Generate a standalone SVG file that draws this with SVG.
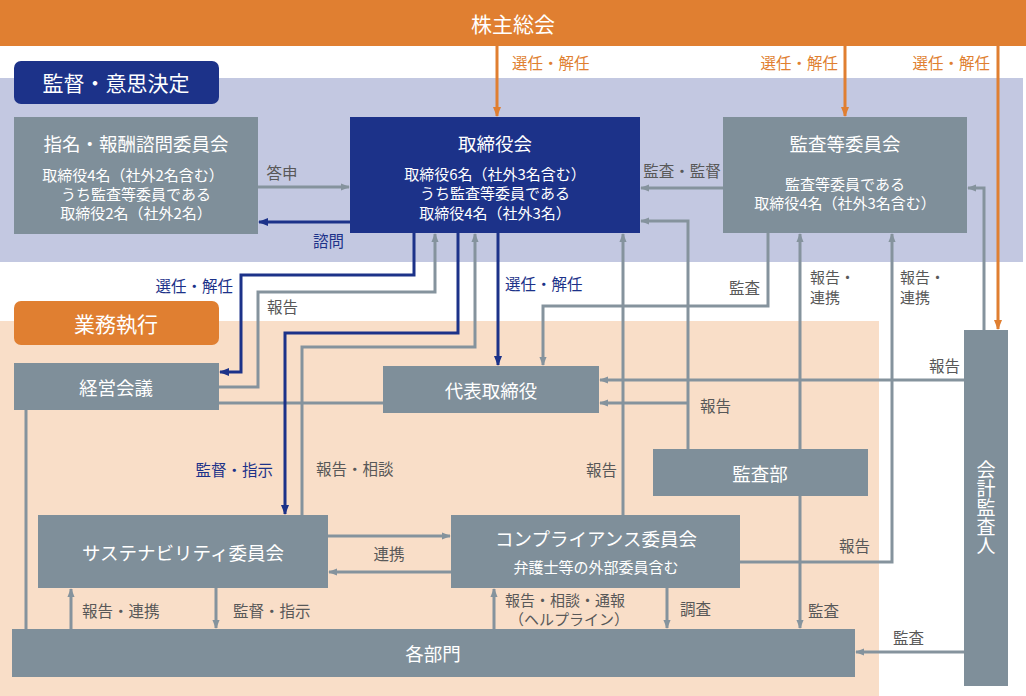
<svg xmlns="http://www.w3.org/2000/svg" width="1026" height="696" viewBox="0 0 1026 696">
<style>
text{font-family:"Noto Sans CJK JP","Noto Sans",sans-serif;dominant-baseline:central}
.t{fill:#fff;font-size:18.5px;text-anchor:middle}
.s{fill:#fff;font-size:15px;text-anchor:middle}
.h{fill:#fff;font-size:21px;text-anchor:middle}
.lb{font-size:15.5px;fill:#585858}
.m{font-size:15px}
.lo{font-size:15.5px;fill:#E07F31}
.ln{font-size:15.5px;fill:#1C3289}
.g{fill:#7F8F9A}
.cg{fill:none;stroke:#85939D;stroke-width:3}
.cn{fill:none;stroke:#1C3289;stroke-width:3}
.co{fill:none;stroke:#E07F31;stroke-width:3}
</style>
<defs>
<marker id="ag" viewBox="0 0 10 10" refX="9" refY="5" markerWidth="9" markerHeight="9" markerUnits="userSpaceOnUse" orient="auto"><path d="M0,1 L10,5 L0,9 z" fill="#85939D"/></marker>
<marker id="an" viewBox="0 0 10 10" refX="9" refY="5" markerWidth="10" markerHeight="10" markerUnits="userSpaceOnUse" orient="auto"><path d="M0,1 L10,5 L0,9 z" fill="#1C3289"/></marker>
<marker id="ao" viewBox="0 0 10 10" refX="9" refY="5" markerWidth="10" markerHeight="10" markerUnits="userSpaceOnUse" orient="auto"><path d="M0,1 L10,5 L0,9 z" fill="#E07F31"/></marker>
</defs>
<rect width="1026" height="696" fill="#fff"/>
<rect x="0" y="78" width="1023" height="184" fill="#C3C8E1"/>
<rect x="0" y="321" width="879" height="375" fill="#F9DEC8"/>
<g id="shareholders"><rect x="0" y="0" width="1026" height="46" fill="#E07F31"/><text class="h" x="513" y="23">株主総会</text></g>
<g id="sec-supervision"><rect x="14" y="61" width="205" height="43" rx="7" fill="#1C3289"/><text class="h" x="116" y="82">監督・意思決定</text></g>
<g id="sec-execution"><rect x="14" y="301" width="205" height="44" rx="7" fill="#E07F31"/><text class="h" x="116" y="323">業務執行</text></g>

<g id="connectors">
<path class="co" d="M497,46 V116" marker-end="url(#ao)"/>
<path class="co" d="M845,46 V116" marker-end="url(#ao)"/>
<path class="co" d="M998,46 V329" marker-end="url(#ao)"/>
<path class="cg" d="M258,187 H349" marker-end="url(#ag)"/>
<path class="cn" d="M350,222 H259" marker-end="url(#an)"/>
<path class="cg" d="M723,188 H641" marker-end="url(#ag)"/>
<path class="cg" d="M688,449 V221 H641" marker-end="url(#ag)"/>
<path class="cg" d="M688,403 H600" marker-end="url(#ag)"/>
<path class="cg" d="M623,515 V234" marker-end="url(#ag)"/>
<path class="cg" d="M768,233 V306 H543 V365" marker-end="url(#ag)"/>
<path class="cg" d="M800,449 V234" marker-end="url(#ag)"/>
<path class="cg" d="M740,562 H892 V234" marker-end="url(#ag)"/>
<path class="cg" d="M964,380 H600" marker-end="url(#ag)"/>
<path class="cg" d="M984,330 V188 H968" marker-end="url(#ag)"/>
<path class="cg" d="M800,496 V628" marker-end="url(#ag)"/>
<path class="cg" d="M964,652 H856" marker-end="url(#ag)"/>
<path class="cg" d="M219,387 H258 V292 H435 V234" marker-end="url(#ag)"/>
<path class="cg" d="M219,403 H383"/>
<path class="cg" d="M26,410 V629"/>
<path class="cg" d="M302,515 V347 H475 V234" marker-end="url(#ag)"/>
<path class="cg" d="M71,629 V589" marker-end="url(#ag)"/>
<path class="cg" d="M216,588 V628" marker-end="url(#ag)"/>
<path class="cg" d="M328,536 H450" marker-end="url(#ag)"/>
<path class="cg" d="M451,572 H329" marker-end="url(#ag)"/>
<path class="cg" d="M494,629 V589" marker-end="url(#ag)"/>
<path class="cg" d="M667,588 V628" marker-end="url(#ag)"/>
<path class="cn" d="M414,233 V275 H241 V372 H220" marker-end="url(#an)"/>
<path class="cn" d="M458,233 V333 H285 V514" marker-end="url(#an)"/>
<path class="cn" d="M498,233 V365" marker-end="url(#an)"/>

<text class="lo" x="512" y="62">選任・解任</text>
<text class="lo" x="838" y="62" text-anchor="end">選任・解任</text>
<text class="lo" x="990" y="62" text-anchor="end">選任・解任</text>
<text class="lb" x="282" y="172" text-anchor="middle">答申</text>
<text class="ln" x="313" y="240">諮問</text>
<text class="lb" x="682" y="170" text-anchor="middle">監査・監督</text>
<text class="ln" x="233" y="285" text-anchor="end">選任・解任</text>
<text class="lb" x="267" y="306">報告</text>
<text class="ln" x="505" y="283">選任・解任</text>
<text class="lb" x="760" y="287" text-anchor="end">監査</text>
<text class="lb m" x="810" y="276">報告・</text>
<text class="lb m" x="810" y="296">連携</text>
<text class="lb m" x="900" y="276">報告・</text>
<text class="lb m" x="900" y="296">連携</text>
<text class="lb" x="960" y="365" text-anchor="end">報告</text>
<text class="lb" x="700" y="405">報告</text>
<text class="ln" x="273" y="469" text-anchor="end">監督・指示</text>
<text class="lb" x="316" y="468">報告・相談</text>
<text class="lb" x="617" y="469" text-anchor="end">報告</text>
<text class="lb" x="870" y="545" text-anchor="end">報告</text>
<text class="lb" x="389" y="553" text-anchor="middle">連携</text>
<text class="lb" x="82" y="610">報告・連携</text>
<text class="lb" x="233" y="610">監督・指示</text>
<text class="lb m" x="505" y="599">報告・相談・通報</text>
<text class="lb m" x="509" y="618">（ヘルプライン）</text>
<text class="lb" x="680" y="608">調査</text>
<text class="lb" x="808" y="610">監査</text>
<text class="lb" x="893" y="637">監査</text>
</g>

<g id="nomination"><rect class="g" x="14" y="117" width="244" height="117"/>
<text class="t" x="136" y="143">指名・報酬諮問委員会</text>
<text class="s" x="133" y="174">取締役4名（社外2名含む）</text>
<text class="s" x="136" y="193">うち監査等委員である</text>
<text class="s" x="136" y="212">取締役2名（社外2名）</text></g>
<g id="board"><rect x="350" y="117" width="290" height="116" fill="#1C3289"/>
<text class="t" x="495" y="143">取締役会</text>
<text class="s" x="495" y="173">取締役6名（社外3名含む）</text>
<text class="s" x="495" y="192">うち監査等委員である</text>
<text class="s" x="495" y="212">取締役4名（社外3名）</text></g>
<g id="audit-committee"><rect class="g" x="723" y="117" width="244" height="116"/>
<text class="t" x="845" y="143">監査等委員会</text>
<text class="s" x="845" y="183">監査等委員である</text>
<text class="s" x="845" y="202">取締役4名（社外3名含む）</text></g>
<g id="management"><rect class="g" x="14" y="363" width="205" height="47"/><text class="t" x="116" y="387">経営会議</text></g>
<g id="ceo"><rect class="g" x="383" y="366" width="216" height="47"/><text class="t" x="491" y="390">代表取締役</text></g>
<g id="internal-audit"><rect class="g" x="653" y="449" width="215" height="47"/><text class="t" x="760" y="473">監査部</text></g>
<g id="sustainability"><rect class="g" x="38" y="515" width="290" height="73"/><text class="t" x="183" y="552">サステナビリティ委員会</text></g>
<g id="compliance"><rect class="g" x="451" y="515" width="289" height="73"/>
<text class="t" x="596" y="538">コンプライアンス委員会</text>
<text class="s" x="596" y="566">弁護士等の外部委員含む</text></g>
<g id="departments"><rect class="g" x="12" y="629" width="843" height="48"/><text class="t" x="433" y="653">各部門</text></g>
<g id="auditor"><rect class="g" x="964" y="330" width="44" height="356"/>
<text class="t" x="986" y="508" style="writing-mode:vertical-rl;font-size:19px">会計監査人</text></g>
</svg>
